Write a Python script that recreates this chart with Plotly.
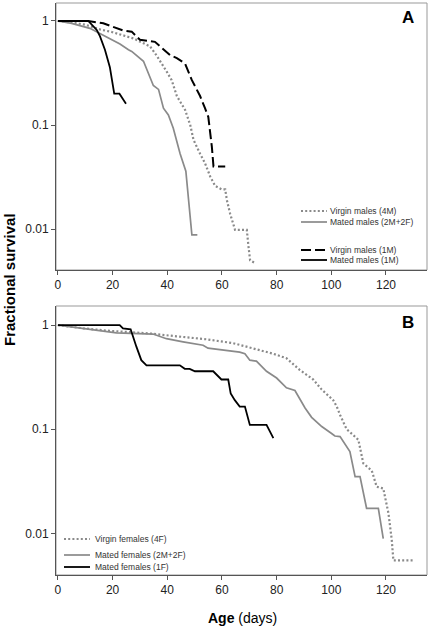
import plotly.graph_objects as go

# ---------------- data ----------------
# Panel A (males)
vm4_age = [0, 5, 10, 15.4, 20, 27.6, 33.7, 36, 39.8, 41.6, 43.5, 46.5, 48.4, 49.6, 52, 53.8,
           55.7, 57.5, 60, 61.2, 61.8, 63, 64.8, 69.1, 69.7, 70.3, 72.2]
vm4_surv = [1, 0.97, 0.92, 0.83, 0.78, 0.68, 0.57, 0.47, 0.326, 0.27, 0.19, 0.14, 0.1, 0.072,
            0.053, 0.043, 0.032, 0.026, 0.024, 0.024, 0.019, 0.014, 0.0098, 0.0098, 0.0068,
            0.005, 0.0047]

mm22_age = [0, 5, 11.7, 15.4, 19, 22.7, 25.8, 27, 31.3, 34.9, 36.8, 38.6, 40.4, 42.2, 44.7,
            46.8, 49, 51]
mm22_surv = [1, 0.95, 0.85, 0.76, 0.67, 0.6, 0.53, 0.51, 0.41, 0.24, 0.22, 0.145, 0.125, 0.093,
             0.053, 0.036, 0.0088, 0.0088]

vm1_age = [0, 11.1, 16.6, 20.3, 23.9, 27, 30, 35.5, 38.6, 41, 43.5, 46.5, 49, 52, 53.8, 55,
           56.3, 56.9, 61.2]
vm1_surv = [1, 1, 0.95, 0.88, 0.81, 0.79, 0.66, 0.63, 0.53, 0.47, 0.44, 0.39, 0.27, 0.19,
            0.145, 0.12, 0.062, 0.04, 0.04]

mm1_age = [0, 11.1, 14.2, 15.4, 17.2, 19, 20.6, 22.5, 24.9]
mm1_surv = [1, 1, 0.82, 0.71, 0.53, 0.36, 0.2, 0.2, 0.16]

# Panel B (females)
vf4_age = [0, 9.2, 18.9, 33.6, 43.3, 54.3, 64.1, 71.4, 78.8, 83.6, 88.5, 93.4, 96.5, 100.7,
           102, 103.2, 105.6, 108, 109.9, 111.7, 114.8, 116.6, 119, 120.9, 122.1, 122.7, 130]
vf4_surv = [1, 0.93, 0.88, 0.83, 0.78, 0.73, 0.67, 0.6, 0.53, 0.48, 0.37, 0.30, 0.24, 0.19,
            0.165, 0.137, 0.10, 0.088, 0.079, 0.047, 0.04, 0.028, 0.027, 0.0156, 0.0087,
            0.0055, 0.0055]

mf22_age = [0, 9.2, 18.9, 21.4, 34.8, 39.7, 45.8, 53.1, 54.9, 66.5, 68.4, 70.2, 72.6, 76.3,
            80, 83.6, 86.7, 89.1, 90.4, 92.8, 96.5, 100.1, 101.3, 103.2, 105.6, 106.8, 108.7,
            110.5, 112.9, 117.2, 119]
mf22_surv = [1, 0.93, 0.86, 0.84, 0.82, 0.74, 0.69, 0.64, 0.6, 0.55, 0.53, 0.46, 0.45, 0.36,
             0.31, 0.25, 0.235, 0.18, 0.16, 0.13, 0.106, 0.091, 0.086, 0.085, 0.068, 0.061,
             0.035, 0.035, 0.0174, 0.0174, 0.0089]

mf1_age = [0, 22.6, 23.8, 26.6, 28.7, 30.5, 32.4, 44.6, 46.4, 48.2, 50.1, 56.8, 59.8, 62.3,
           63.2, 64.7, 66.5, 68.4, 70.2, 76.3, 78.8]
mf1_surv = [1, 1, 0.93, 0.91, 0.62, 0.46, 0.41, 0.41, 0.38, 0.38, 0.36, 0.36, 0.30, 0.3, 0.22,
            0.19, 0.165, 0.165, 0.11, 0.11, 0.082]

x_ticks = [0, 20, 40, 60, 80, 100, 120]
y_ticks = [1, 0.1, 0.01]
y_tick_labels = ["1", "0.1", "0.01"]

# ---------------- styles ----------------
W, H = 430, 628
GREY = "#8a8a8a"
BLACK = "#000000"
FONT = "Liberation Sans, Arial, sans-serif"

styles = {
    "dot": dict(color=GREY, width=2.2, dash="2px,2.2px"),
    "grey": dict(color=GREY, width=1.7),
    "dash": dict(color=BLACK, width=2, dash="10px,4px"),
    "black": dict(color=BLACK, width=1.8),
}

panel_a = [
    ("Virgin males (4M)", vm4_age, vm4_surv, "dot"),
    ("Mated males (2M+2F)", mm22_age, mm22_surv, "grey"),
    ("Virgin males (1M)", vm1_age, vm1_surv, "dash"),
    ("Mated males (1M)", mm1_age, mm1_surv, "black"),
]
panel_b = [
    ("Virgin females (4F)", vf4_age, vf4_surv, "dot"),
    ("Mated females (2M+2F)", mf22_age, mf22_surv, "grey"),
    ("Mated females (1F)", mf1_age, mf1_surv, "black"),
]

fig = go.Figure()
for name, xs, ys, st in panel_a:
    fig.add_trace(go.Scatter(x=xs, y=ys, mode="lines", name=name, line=styles[st],
                             xaxis="x", yaxis="y", showlegend=False))
for name, xs, ys, st in panel_b:
    fig.add_trace(go.Scatter(x=xs, y=ys, mode="lines", name=name, line=styles[st],
                             xaxis="x2", yaxis="y2", showlegend=False))


def px(x):
    return x / W


def py(y):
    return 1 - y / H


# domains in pixel terms
A_top, A_bot = 3, 270
B_top, B_bot = 306, 575
L, R = 56, 427

xcommon = dict(range=[-0.7, 135], tickvals=x_ticks, showline=True, linecolor="#555",
               linewidth=1, ticks="outside", ticklen=4, tickcolor="#555",
               showgrid=False, zeroline=False, tickfont=dict(size=12, color="#222", family=FONT))
ycommon = dict(type="log", tickvals=y_ticks, ticktext=y_tick_labels, showline=True,
               linecolor="#555", linewidth=1, ticks="outside", ticklen=4, tickcolor="#555",
               showgrid=False, zeroline=False, tickfont=dict(size=12, color="#222", family=FONT))

fig.update_layout(
    width=W, height=H,
    margin=dict(l=0, r=0, t=0, b=0),
    paper_bgcolor="white", plot_bgcolor="white",
    showlegend=False,
    font=dict(family=FONT, color="#222"),
    xaxis=dict(domain=[px(L), px(R)], anchor="y", **xcommon),
    yaxis=dict(domain=[py(A_bot), py(A_top)], anchor="x", range=[-2.394, 0.173], **ycommon),
    xaxis2=dict(domain=[px(L), px(R)], anchor="y2", **xcommon),
    yaxis2=dict(domain=[py(B_bot), py(B_top)], anchor="x2", range=[-2.40, 0.183], **ycommon),
)

shapes = []
# frames
for xr, yr in (("x domain", "y domain"), ("x2 domain", "y2 domain")):
    shapes.append(dict(type="rect", xref=xr, yref=yr, x0=0, x1=1, y0=0, y1=1,
                       line=dict(color="#999", width=1), layer="below"))

annotations = []
# legends (manual, tight spacing like the original)
leg_a = [(panel_a[0], 211), (panel_a[1], 222), (panel_a[2], 250), (panel_a[3], 260)]
for (name, _, _, st), yy in leg_a:
    shapes.append(dict(type="line", xref="paper", yref="paper", x0=px(301), x1=px(327),
                       y0=py(yy), y1=py(yy), line=styles[st]))
    annotations.append(dict(text=name, xref="paper", yref="paper", x=px(327.5), y=py(yy),
                            xanchor="left", yanchor="middle", showarrow=False,
                            font=dict(size=8.5, color="#333", family=FONT)))
leg_b = [(panel_b[0], 539), (panel_b[1], 555), (panel_b[2], 567)]
for (name, _, _, st), yy in leg_b:
    shapes.append(dict(type="line", xref="paper", yref="paper", x0=px(64), x1=px(90),
                       y0=py(yy), y1=py(yy), line=styles[st]))
    annotations.append(dict(text=name, xref="paper", yref="paper", x=px(93), y=py(yy),
                            xanchor="left", yanchor="middle", showarrow=False,
                            font=dict(size=8.5, color="#333", family=FONT)))

# panel letters
annotations.append(dict(text="<b>A</b>", xref="paper", yref="paper", x=px(408), y=py(17),
                        xanchor="center", yanchor="middle", showarrow=False,
                        font=dict(size=17, color="#000", family=FONT)))
annotations.append(dict(text="<b>B</b>", xref="paper", yref="paper", x=px(408), y=py(322),
                        xanchor="center", yanchor="middle", showarrow=False,
                        font=dict(size=17, color="#000", family=FONT)))
# axis titles
annotations.append(dict(text="<b>Age</b> (days)", xref="paper", yref="paper", x=px(242),
                        y=py(618), xanchor="center", yanchor="middle", showarrow=False,
                        font=dict(size=14, color="#000", family=FONT)))
annotations.append(dict(text="<b>Fractional survival</b>", xref="paper", yref="paper",
                        x=px(9), y=py(280), xanchor="center", yanchor="middle",
                        showarrow=False, textangle=-90,
                        font=dict(size=15, color="#000", family=FONT)))

fig.update_layout(shapes=shapes, annotations=annotations)
fig.write_html(
    "out.html",
    config={"displayModeBar": False, "staticPlot": True},
    post_script="document.body.style.margin='0';document.body.style.overflow='hidden';",
)
